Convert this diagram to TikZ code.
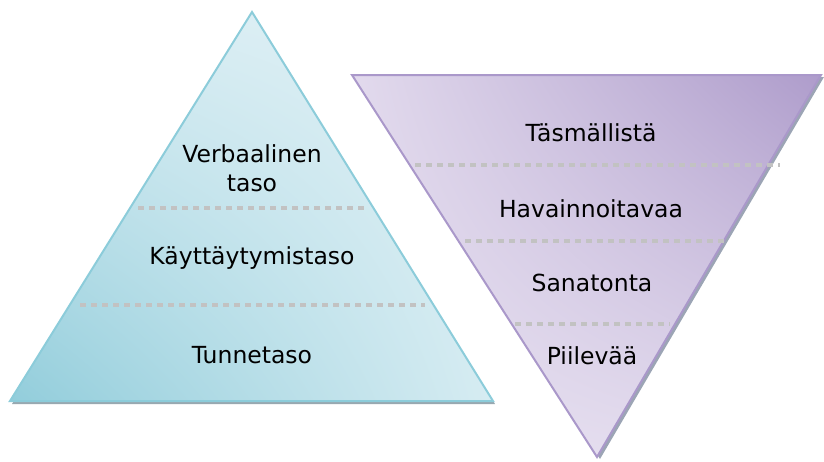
\documentclass[tikz,border=0pt]{standalone}
\usepackage{fontspec}
\setmainfont{DejaVu Sans}
\usetikzlibrary{shadings}
\definecolor{blueedge}{HTML}{8CCCDA}
\definecolor{bluedark}{HTML}{92CDDB}
\definecolor{bluelight}{HTML}{D6ECF2}
\definecolor{bluepale}{HTML}{E2F1F6}
\definecolor{lilacedge}{HTML}{AA98CA}
\definecolor{lilacdark}{HTML}{AE9CCB}
\definecolor{lilaclight}{HTML}{E2DAED}
\definecolor{lilacpale}{HTML}{E8E2F1}
\definecolor{dotgray}{HTML}{C2C2C2}
\definecolor{shadowgray}{HTML}{98A8B0}
\tikzset{
  levelline/.style={dotgray, line width=4.5pt, dash pattern=on 6pt off 5pt},
  leveltext/.style={font=\fontsize{23.5}{29}\selectfont, align=center, text=black}
}
\begin{document}
\begin{tikzpicture}[x=1pt,y=-1pt]
		\useasboundingbox (0,0) rectangle (824,461);
		% Pyramidi
		\fill[shadowgray, shift={(2,3)}] (252,12) -- (493,401) -- (10,401) -- cycle;
		\shade[upper left=bluelight, upper right=bluepale, lower left=bluedark, lower right=bluelight]
			(252,12) -- (493,401) -- (10,401) -- cycle;
		\draw[blueedge, line width=2pt, line join=miter] (252,12) -- (493,401) -- (10,401) -- cycle;
		\draw[levelline] (138,208) -- (367,208);
		\draw[levelline] (80,305) -- (425,305);
		\node[leveltext] (verbaali) at (252,168) {Verbaalinen\\taso};
		\node[leveltext] (kaytos) at (252,258) {Käyttäytymistaso};
		\node[leveltext] (tunne) at (252,355) {Tunnetaso};
		
		% Kaanteinen pyramidi
		\fill[shadowgray!80!lilacedge, shift={(3,2)}] (352,75) -- (821,75) -- (597,457) -- cycle;
		\shade[upper left=lilaclight, upper right=lilacdark, lower left=lilacpale, lower right=lilaclight]
			(352,75) -- (821,75) -- (597,457) -- cycle;
		\draw[lilacedge, line width=2pt, line join=miter] (352,75) -- (821,75) -- (597,457) -- cycle;
		\draw[levelline] (415,165) -- (780,165);
		\draw[levelline] (465,241) -- (725,241);
		\draw[levelline] (515,324) -- (670,324);
		\node[leveltext] (tasmall) at (591,133) {Täsmällistä};
		\node[leveltext] (havainto) at (591,209) {Havainnoitavaa};
		\node[leveltext] (sanaton) at (592,283) {Sanatonta};
		\node[leveltext] (piilo) at (592,356) {Piilevää};
	\end{tikzpicture}
\end{document}
